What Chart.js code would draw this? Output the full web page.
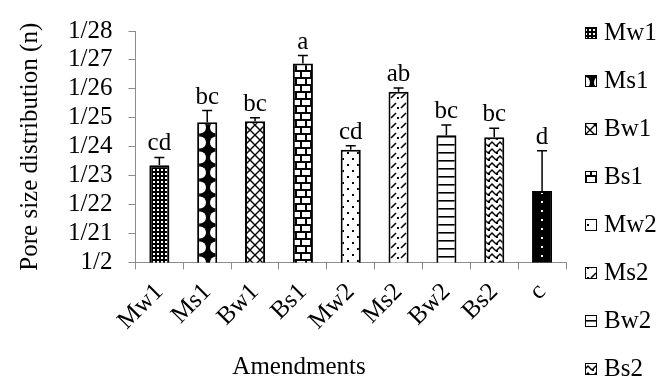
<!DOCTYPE html>
<html>
<head>
<meta charset="utf-8">
<script src="https://cdn.jsdelivr.net/npm/chart.js@4.4.1/dist/chart.umd.min.js"></script>
<style>
  html, body { margin:0; padding:0; background:#fff; }
  #wrap { width:659px; height:379px; }
</style>
</head>
<body>
<div id="wrap"><canvas id="chart" width="659" height="379"></canvas></div>
<script>
// data
const categories = ['Mw1','Ms1','Bw1','Bs1','Mw2','Ms2','Bw2','Bs2','c'];
const means  = [23.36, 24.85, 24.88, 26.88, 23.90, 25.90, 24.40, 24.33, 22.47];
const errors = [0.27, 0.40, 0.12, 0.27, 0.13, 0.13, 0.35, 0.31, 1.39];
const letters = ['cd','bc','bc','a','cd','ab','bc','bc','d'];
const legendItems = ['Mw1','Ms1','Bw1','Bs1','Mw2','Ms2','Bw2','Bs2'];
const yMin = 20, yMax = 28;

const FONT = 'Liberation Serif, Times New Roman, serif';
const AXIS = '#8c8c8c';

const el = document.getElementById('chart');
const ctx = el.getContext('2d');

function makePattern(w, h, bg, draw){
  const c = document.createElement('canvas');
  c.width = w; c.height = h;
  const g = c.getContext('2d');
  g.fillStyle = bg; g.fillRect(0,0,w,h);
  g.fillStyle = '#000'; g.strokeStyle = '#000';
  draw(g, w, h);
  return ctx.createPattern(c, 'repeat');
}

const patterns = [
  // Mw1 - dense dark grid
  makePattern(4,4,'#000', g => { g.fillStyle='#fff'; g.fillRect(1,1,2,2); }),
  // Ms1 - black with white circles
  makePattern(16,15,'#000', g => { g.fillStyle='#fff'; g.beginPath(); g.arc(8,7.5,6,0,Math.PI*2); g.fill(); }),
  // Bw1 - diagonal lattice
  makePattern(10,10,'#fff', g => { g.lineWidth=1.4; g.beginPath(); g.moveTo(0,0); g.lineTo(10,10); g.moveTo(10,0); g.lineTo(0,10); g.stroke(); }),
  // Bs1 - bricks
  makePattern(10,14,'#fff', g => { g.fillRect(0,0,10,2); g.fillRect(0,7,10,2); g.fillRect(0,0,2,7); g.fillRect(5,7,2,7); }),
  // Mw2 - sparse dots
  makePattern(10,12,'#fff', g => { g.fillRect(2,2,2,2); g.fillRect(7,8,2,2); }),
  // Ms2 - dashes and dots
  makePattern(10,10,'#fff', g => { g.lineWidth=1.6; g.beginPath(); g.moveTo(1,8); g.lineTo(6,3); g.stroke(); g.fillRect(7,7,2,2); }),
  // Bw2 - horizontal lines
  makePattern(8,8,'#fff', g => { g.fillRect(0,0,8,1.6); }),
  // Bs2 - zigzag
  makePattern(8,7,'#fff', g => { g.lineWidth=1.5; g.beginPath(); g.moveTo(0,6); g.lineTo(4,2); g.lineTo(8,6); g.stroke(); g.fillRect(0,5,2,2); }),
  // c - black with a column of white dots
  makePattern(20,9,'#000', g => { g.fillStyle='#fff'; g.fillRect(1,3,2,2); })
];

const errorBars = {
  id: 'errorBars',
  afterDatasetsDraw(chart){
    const c = chart.ctx, y = chart.scales.y;
    const meta = chart.getDatasetMeta(0);
    c.save();
    c.strokeStyle = '#000'; c.lineWidth = 1.5;
    c.fillStyle = '#000';
    c.font = '25px ' + FONT;
    c.textAlign = 'center'; c.textBaseline = 'alphabetic';
    meta.data.forEach((bar, i) => {
      const top = y.getPixelForValue(means[i] + errors[i]);
      const base = y.getPixelForValue(means[i]);
      c.beginPath();
      c.moveTo(bar.x, base); c.lineTo(bar.x, top);
      c.moveTo(bar.x - 5, top); c.lineTo(bar.x + 5, top);
      c.stroke();
      c.fillText(letters[i], bar.x, top - 7);
    });
    c.restore();
  }
};

const sideLegend = {
  id: 'sideLegend',
  afterDraw(chart){
    const c = chart.ctx;
    c.save();
    c.font = '25px ' + FONT;
    c.textBaseline = 'middle'; c.textAlign = 'left';
    legendItems.forEach((name, i) => {
      const cy = 33 + i * 48;
      c.fillStyle = patterns[i];
      c.fillRect(585, cy - 6, 12, 12);
      c.strokeStyle = '#000'; c.lineWidth = 1;
      c.strokeRect(585.5, cy - 5.5, 11, 11);
      c.fillStyle = '#000';
      c.fillText(name, 604, cy);
    });
    // x axis title
    c.textAlign = 'center';
    c.fillText('Amendments', 299, 367);
    c.restore();
  }
};

new Chart(ctx, {
  type: 'bar',
  data: {
    labels: categories,
    datasets: [{
      data: means,
      backgroundColor: patterns,
      borderColor: '#000',
      borderWidth: 2,
      borderSkipped: 'bottom',
      barPercentage: 0.5,
      categoryPercentage: 0.84
    }]
  },
  options: {
    responsive: false,
    animation: false,
    devicePixelRatio: 1,
    layout: { autoPadding: false, padding: { left: 14, right: 93, top: 26, bottom: 35 } },
    plugins: { legend: { display: false }, tooltip: { enabled: false } },
    scales: {
      x: {
        grid: { display: true, drawOnChartArea: false, drawTicks: true, tickLength: 7, color: AXIS },
        border: { display: true, color: AXIS },
        ticks: { color: '#000', font: { family: FONT, size: 25 }, minRotation: 45, maxRotation: 45, padding: 8, autoSkip: false }
      },
      y: {
        min: yMin, max: yMax,
        grid: { display: true, drawOnChartArea: false, drawTicks: true, tickLength: 7, color: AXIS },
        border: { display: true, color: AXIS },
        ticks: {
          stepSize: 1, color: '#000', padding: 16, autoSkip: false,
          font: { family: FONT, size: 25 },
          callback: v => v === 20 ? '1/2' : '1/' + v
        },
        title: { display: true, text: 'Pore size distribution (n)', color: '#000',
                 font: { family: FONT, size: 25 }, padding: { top: 1, bottom: 7 } }
      }
    }
  },
  plugins: [errorBars, sideLegend]
});
</script>
</body>
</html>
